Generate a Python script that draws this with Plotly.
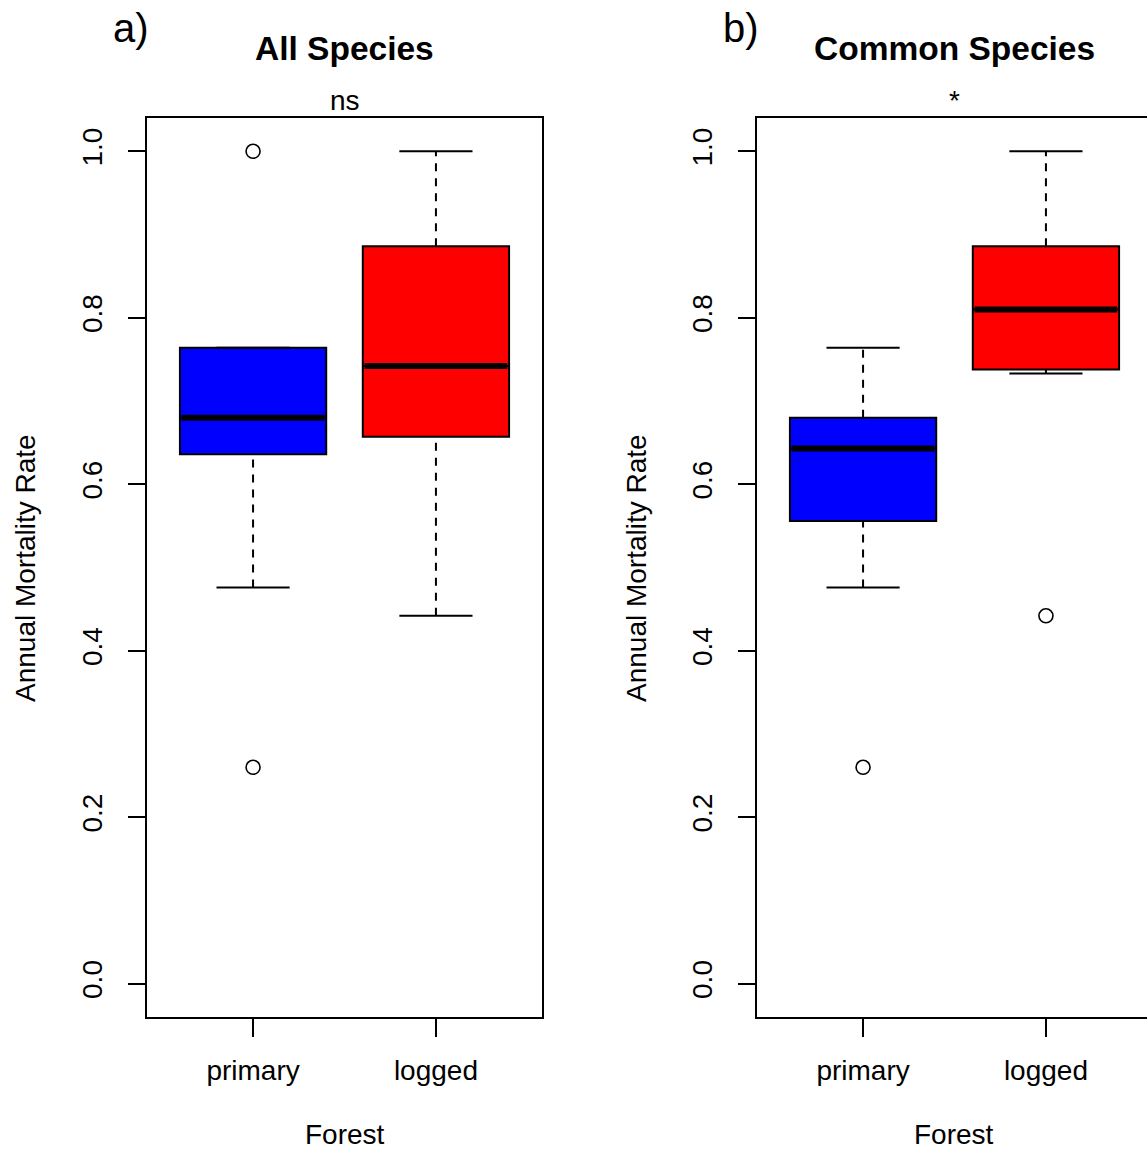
import plotly.graph_objects as go

# Forest types and their box positions
groups = ["primary", "logged"]
positions = [1, 2]
box_colors = ["#0000FF", "#FF0000"]

# a) All species: annual mortality rate summaries
all_q1 = [0.636, 0.657]
all_median = [0.680, 0.742]
all_q3 = [0.764, 0.886]
all_whisker_low = [0.476, 0.442]
all_whisker_high = [0.764, 1.000]
all_outliers = [[1.000, 0.260], []]

# b) Common species: annual mortality rate summaries
com_q1 = [0.556, 0.738]
com_median = [0.643, 0.810]
com_q3 = [0.680, 0.886]
com_whisker_low = [0.476, 0.733]
com_whisker_high = [0.764, 1.000]
com_outliers = [[0.260], [0.442]]

y_ticks = [0.0, 0.2, 0.4, 0.6, 0.8, 1.0]
y_tick_text = ["0.0", "0.2", "0.4", "0.6", "0.8", "1.0"]

FONT = "Liberation Sans, Arial, sans-serif"
BOX_W = 0.8

fig = go.Figure()


def add_panel(xa, ya, q1, med, q3, lo, hi, outs):
    for i, pos in enumerate(positions):
        # dashed whiskers
        for a, b in ((q3[i], hi[i]), (lo[i], q1[i])):
            fig.add_trace(go.Scatter(
                x=[pos, pos], y=[a, b], mode="lines",
                line=dict(color="black", width=2, dash="8px,7px"),
                xaxis=xa, yaxis=ya, hoverinfo="skip", showlegend=False))
        # staples
        for v in (lo[i], hi[i]):
            fig.add_trace(go.Scatter(
                x=[pos - BOX_W / 4, pos + BOX_W / 4], y=[v, v], mode="lines",
                line=dict(color="black", width=2),
                xaxis=xa, yaxis=ya, hoverinfo="skip", showlegend=False))
        # box body
        fig.add_trace(go.Box(
            x=[pos], q1=[q1[i]], median=[med[i]], q3=[q3[i]],
            lowerfence=[q1[i]], upperfence=[q3[i]],
            width=BOX_W, whiskerwidth=0, boxpoints=False,
            fillcolor=box_colors[i], line=dict(color="black", width=2),
            xaxis=xa, yaxis=ya, hoverinfo="skip", showlegend=False))
        # thick median bar
        fig.add_trace(go.Scatter(
            x=[pos - BOX_W / 2 + 0.01, pos + BOX_W / 2 - 0.01], y=[med[i], med[i]],
            mode="lines", line=dict(color="black", width=6),
            xaxis=xa, yaxis=ya, hoverinfo="skip", showlegend=False))
        # outliers
        if outs[i]:
            fig.add_trace(go.Scatter(
                x=[pos] * len(outs[i]), y=outs[i], mode="markers",
                marker=dict(symbol="circle-open", size=14, color="black",
                            line=dict(width=1.6, color="black")),
                xaxis=xa, yaxis=ya, hoverinfo="skip", showlegend=False))


add_panel("x", "y", all_q1, all_median, all_q3, all_whisker_low, all_whisker_high, all_outliers)
add_panel("x2", "y2", com_q1, com_median, com_q3, com_whisker_low, com_whisker_high, com_outliers)

W, H = 1147, 1151
unit = 395 / 2.16  # pixels per category unit
y_dom = [1 - 1017 / H, 1 - 118 / H]

axis_common = dict(showgrid=False, zeroline=False, showline=True, linecolor="black",
                   linewidth=2, ticks="outside", tickcolor="black", tickwidth=2,
                   tickfont=dict(family=FONT, size=28, color="black"))

fig.update_layout(
    width=W, height=H, margin=dict(l=0, r=0, t=0, b=0),
    paper_bgcolor="white", plot_bgcolor="white", showlegend=False,
    font=dict(family=FONT, color="black"),
    xaxis=dict(axis_common, domain=[147 / W, 542 / W], range=[0.42, 2.58],
               tickvals=positions, ticktext=groups, ticklen=18, mirror=True,
               ticklabelstandoff=9),
    yaxis=dict(axis_common, domain=y_dom, range=[-0.04, 1.04], tickvals=y_ticks,
               ticktext=y_tick_text, tickangle=-90, ticklen=17, mirror=True,
               ticklabelstandoff=15),
    xaxis2=dict(axis_common, domain=[757 / W, 1.0],
                range=[0.42, 0.42 + (W - 757) / unit], anchor="y2",
                tickvals=positions, ticktext=groups, ticklen=18, mirror=True,
                ticklabelstandoff=9),
    yaxis2=dict(axis_common, domain=y_dom, range=[-0.04, 1.04], tickvals=y_ticks,
                ticktext=y_tick_text, tickangle=-90, ticklen=17, mirror=False,
                anchor="x2", ticklabelstandoff=15),
)


def paper_text(text, px, py, size, bold=False, angle=0):
    fig.add_annotation(
        x=px / W, y=1 - py / H, xref="paper", yref="paper",
        text=f"<b>{text}</b>" if bold else text, showarrow=False,
        textangle=angle, xanchor="center", yanchor="middle",
        font=dict(family=FONT, size=size, color="black"))


# panel letters, titles, significance marks and axis titles
paper_text("a)", 131, 28, 40)
paper_text("b)", 741, 28, 40)
paper_text("All Species", 344.5, 48, 33.5, bold=True)
paper_text("Common Species", 954.5, 48, 33.5, bold=True)
paper_text("ns", 344.5, 101, 28)
paper_text("*", 954.5, 101, 28)
paper_text("Annual Mortality Rate", 25, 568, 28, angle=-90)
paper_text("Annual Mortality Rate", 636, 568, 28, angle=-90)
paper_text("Forest", 344.5, 1134, 28)
paper_text("Forest", 954.5, 1134, 28)

fig.write_html("out.html")
